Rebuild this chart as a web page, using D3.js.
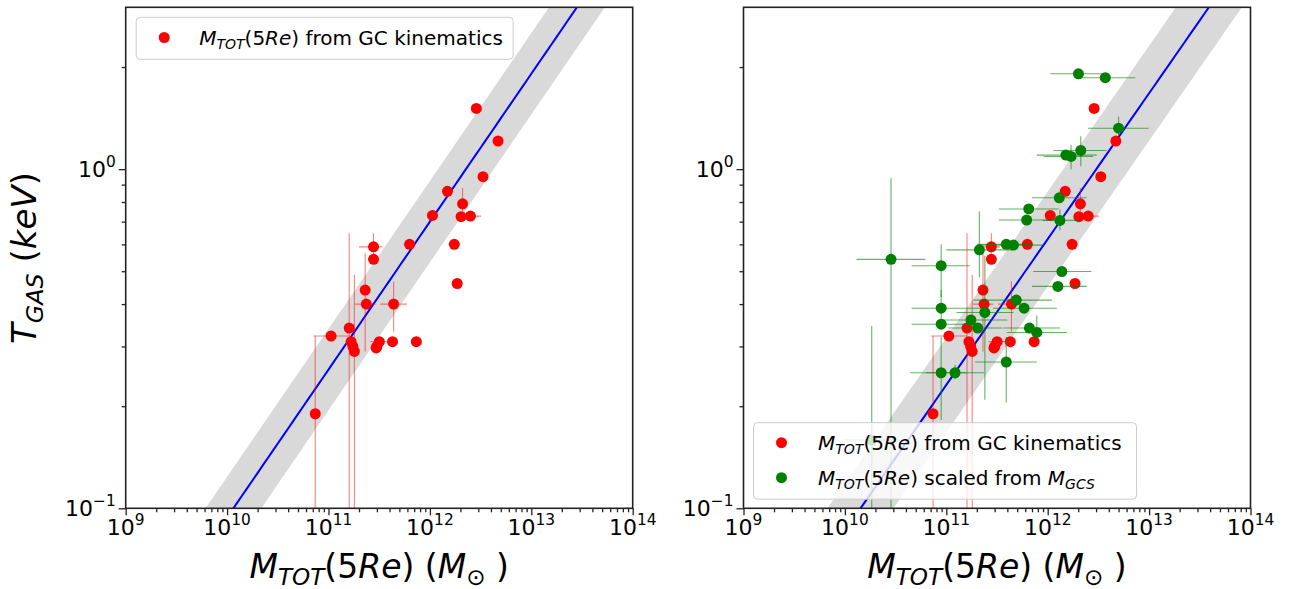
<!DOCTYPE html>
<html>
<head>
<meta charset="utf-8">
<script src="https://cdn.jsdelivr.net/npm/d3@7"></script>
<style>
  body { margin: 0; background: #fff; }
  svg text { font-family: "DejaVu Sans", sans-serif; fill: #000; white-space: pre; }
</style>
</head>
<body>
<svg id="fig" width="1301" height="589"></svg>
<script>
// ---------------- data ----------------
const massTicks = [1e9, 1e10, 1e11, 1e12, 1e13, 1e14];
const massTickExp = ["9", "10", "11", "12", "13", "14"];
const tempTicks = [0.1, 1];
const tempTickExp = ["\u22121", "0"];

// M_TOT(5Re) from GC kinematics (solar masses, keV); null = no bar on that side
const gcMass   = [7.4e10, 1.06e11, 1.6e11, 1.67e11, 1.74e11, 1.8e11, 2.3e11, 2.36e11, 2.78e11, 2.78e11,
                  3.0e11, 2.95e11, 3.17e11, 4.28e11, 4.39e11, 7.35e11, 6.3e11, 1.06e12, 1.49e12, 2.1e12,
                  2.03e12, 2.51e12, 1.74e12, 1.86e12, 2.87e12, 4.7e12, 3.34e12];
const gcTemp   = [0.19, 0.322, 0.34, 0.31, 0.30, 0.29, 0.44, 0.40, 0.59, 0.542,
                  0.30, 0.297, 0.31, 0.31, 0.40, 0.31, 0.60, 0.73, 0.86, 0.79,
                  0.724, 0.727, 0.60, 0.46, 1.51, 1.21, 0.95];
const gcMassLo = [null, 7.1e10, null, null, null, null, null, 1.83e11, 2.0e11, null,
                  null, null, 2.6e11, null, 3.24e11, null, null, null, null, null,
                  null, 2.2e12, null, null, null, null, null];
const gcMassHi = [null, 1.6e11, null, null, null, null, null, 2.9e11, 3.4e11, null,
                  null, null, 3.8e11, null, 5.94e11, null, null, null, null, null,
                  null, 3.2e12, null, null, null, null, null];
const gcTempLo = [0.05, null, 0.05, null, null, 0.05, 0.29, null, 0.54, null,
                  0.29, null, null, null, 0.332, null, null, null, null, 0.75,
                  null, null, null, null, null, null, null];
const gcTempHi = [0.322, null, 0.647, null, null, 0.488, 0.565, null, 0.647, null,
                  0.32, null, null, null, 0.466, null, null, null, null, 0.88,
                  null, null, null, null, null, null, null];

// M_TOT(5Re) scaled from the GC system mass
const gcsMass   = [2.01e12, 3.7e12, 5.0e12, 2.12e12, 1.51e12, 1.7e12, 1.3e12, 6.5e11, 6.2e11, 1.32e12,
                   3.9e11, 4.6e11, 2.12e11, 2.85e10, 8.9e10, 1.38e12, 1.26e12, 4.9e11, 5.85e11, 8.9e10,
                   2.4e11, 1.75e11, 8.9e10, 2.04e11, 6.6e11, 7.8e11, 3.9e11, 8.9e10, 1.22e11, 1.84e10];
const gcsTemp   = [1.91, 1.86, 1.32, 1.135, 1.10, 1.09, 0.823, 0.763, 0.708, 0.706,
                   0.60, 0.597, 0.578, 0.542, 0.519, 0.499, 0.451, 0.411, 0.389, 0.389,
                   0.378, 0.359, 0.349, 0.34, 0.34, 0.33, 0.27, 0.251, 0.251, 0.159];
const gcsMassLo = [1.06e12, 2.1e12, 2.5e12, 1.14e12, 7.8e11, 9.1e11, 7.0e11, 3.3e11, 3.3e11, 8.9e11,
                   2.0e11, 2.2e11, 1.0e11, 1.3e10, 4.55e10, 7.2e11, 7.0e11, 1.85e11, 2.9e11, 4.55e10,
                   1.26e11, 8.9e10, 4.55e10, 1.05e11, 3.65e11, 3.95e11, 1.92e11, 4.4e10, 6.3e10, 1.0e10];
const gcsMassHi = [3.8e12, 7.3e12, 9.9e12, 3.8e12, 3.05e12, 2.8e12, 2.43e12, 1.28e12, 1.23e12, 2.0e12,
                   7.1e11, 8.9e11, 4.5e11, 6.2e10, 1.71e11, 2.7e12, 2.43e12, 1.1e12, 1.23e12, 2.5e11,
                   4.6e11, 4.0e11, 1.71e11, 3.55e11, 1.32e12, 1.55e12, 7.8e11, 1.58e11, 2.35e11, 3.2e10];
const gcsTempLo = [null, null, 1.25, 1.02, null, 1.0, null, null, null, 0.66,
                   null, null, 0.48, 0.05, 0.42, null, null, null, null, 0.35,
                   0.209, null, null, null, null, 0.32, 0.205, 0.182, 0.24, 0.05];
const gcsTempHi = [null, null, 1.43, 1.25, null, 1.18, null, null, null, 0.76,
                   null, null, 0.75, 0.94, 0.60, null, null, null, null, 0.44,
                   0.555, null, null, null, null, 0.37, 0.32, 0.32, 0.265, 0.345];

// power-law relations T = 0.1 keV * (M / M01)^slope, one per panel, with a scatter band (dex in T)
const fitSlope = [0.436, 0.430];
const fitM01   = [1.153e10, 1.426e10];
const bandDex  = [0.12, 0.14];

// ---------------- layout ----------------
const svg = d3.select("#fig");
const panelLeft = [125.7, 743.5];
const W = 507, TOP = 7.3, BOT = 508.3;
const TICK = 22, LEG = 20, XLAB = 33, YLAB = 34;
const RED = "#ff0000", GREEN = "#008000";

// math-style text: [string, style] with style r (roman), i (italic), si/sr (subscript)
function mathText(g, x, y, size, parts, anchor) {
  const t = g.append("text").attr("x", x).attr("y", y)
    .attr("font-size", size).attr("text-anchor", anchor || "start");
  let shifted = 0;
  parts.forEach(([s, st]) => {
    const sub = st[0] === "s";
    const it = st[st.length - 1] === "i";
    const target = sub ? 0.22 * size : 0;
    t.append("tspan")
      .attr("dy", target - shifted)
      .attr("font-size", sub ? size * 0.7 : size)
      .attr("font-style", it ? "italic" : "normal")
      .text(s);
    shifted = target;
  });
  return t;
}

function powerLabel(g, x, y, exp, anchor) {
  const t = g.append("text").attr("x", x).attr("y", y)
    .attr("font-size", TICK).attr("text-anchor", anchor);
  t.append("tspan").text("10");
  t.append("tspan").attr("dy", -10).attr("font-size", TICK * 0.7).text(exp);
}

function minorValues(lo, hi) {
  const out = [];
  for (let d = lo; d < hi; d++) for (let k = 2; k <= 9; k++) out.push(k * Math.pow(10, d));
  return out;
}

function drawSeries(g, x, y, mass, temp, mLo, mHi, tLo, tHi, color, barOpacity) {
  const bars = g.append("g").attr("stroke", color).attr("stroke-opacity", barOpacity)
    .attr("stroke-width", 1.1);
  mass.forEach((m, i) => {
    if (mLo[i] !== null) bars.append("line")
      .attr("x1", x(mLo[i])).attr("x2", x(mHi[i])).attr("y1", y(temp[i])).attr("y2", y(temp[i]));
    if (tLo[i] !== null) bars.append("line")
      .attr("x1", x(m)).attr("x2", x(m)).attr("y1", y(tLo[i])).attr("y2", y(tHi[i]));
  });
  g.append("g").selectAll("circle").data(mass).join("circle")
    .attr("cx", d => x(d)).attr("cy", (d, i) => y(temp[i]))
    .attr("r", 5.5).attr("fill", color);
}

function drawPanel(p) {
  const x0 = panelLeft[p];
  const x = d3.scaleLog().domain([1e9, 1e14]).range([x0, x0 + W]);
  const y = d3.scaleLog().domain([0.1, 3]).range([BOT, TOP]);
  const g = svg.append("g");

  const clipId = "clip" + p;
  svg.append("clipPath").attr("id", clipId).append("rect")
    .attr("x", x0).attr("y", TOP).attr("width", W).attr("height", BOT - TOP);
  const plot = g.append("g").attr("clip-path", `url(#${clipId})`);

  // scatter band and fitted relation
  const fit = m => 0.1 * Math.pow(m / fitM01[p], fitSlope[p]);
  const ms = d3.range(8.5, 14.51, 0.05).map(e => Math.pow(10, e));
  const k = Math.pow(10, bandDex[p]);
  plot.append("path").datum(ms)
    .attr("d", d3.area().x(d => x(d)).y0(d => y(fit(d) / k)).y1(d => y(fit(d) * k)))
    .attr("fill", "#d9d9d9");
  plot.append("path").datum(ms)
    .attr("d", d3.line().x(d => x(d)).y(d => y(fit(d))))
    .attr("fill", "none").attr("stroke", "#0000ff").attr("stroke-width", 2);

  drawSeries(plot, x, y, gcMass, gcTemp, gcMassLo, gcMassHi, gcTempLo, gcTempHi, RED, 0.5);
  if (p === 1)
    drawSeries(plot, x, y, gcsMass, gcsTemp, gcsMassLo, gcsMassHi, gcsTempLo, gcsTempHi, GREEN, 0.6);

  // axes
  const axColor = "#222";
  const xMinor = g.append("g").attr("transform", `translate(0,${BOT})`)
    .call(d3.axisBottom(x).tickValues(minorValues(9, 14)).tickSize(4).tickFormat(""));
  const xMajor = g.append("g").attr("transform", `translate(0,${BOT})`)
    .call(d3.axisBottom(x).tickValues(massTicks).tickSize(7).tickFormat(""));
  const yMinor = g.append("g").attr("transform", `translate(${x0},0)`)
    .call(d3.axisLeft(y).tickValues([0.2, 0.3, 0.4, 0.5, 0.6, 0.7, 0.8, 0.9, 2]).tickSize(4).tickFormat(""));
  const yMajor = g.append("g").attr("transform", `translate(${x0},0)`)
    .call(d3.axisLeft(y).tickValues(tempTicks).tickSize(7).tickFormat(""));
  [xMinor, xMajor, yMinor, yMajor].forEach(a => {
    a.select(".domain").remove();
    a.selectAll("line").attr("stroke", axColor).attr("stroke-width", 1.3);
  });
  g.append("rect").attr("x", x0).attr("y", TOP).attr("width", W).attr("height", BOT - TOP)
    .attr("fill", "none").attr("stroke", axColor).attr("stroke-width", 1.6);

  massTicks.forEach((m, i) => powerLabel(g, x(m), BOT + 27, massTickExp[i], "middle"));
  tempTicks.forEach((t, i) => powerLabel(g, x0 - 10, y(t) + 8, tempTickExp[i], "end"));

  mathText(g, x0 + W / 2, 578, XLAB,
    [["M", "i"], ["TOT", "si"], ["(5", "r"], ["Re", "i"], [") (", "r"], ["M", "i"], ["\u2299", "sr"], [" )", "r"]],
    "middle");

  // legend
  const leg = g.append("g");
  const redLabel = [["M", "i"], ["TOT", "si"], ["(5", "r"], ["Re", "i"], [") from GC kinematics", "r"]];
  const greenLabel = [["M", "i"], ["TOT", "si"], ["(5", "r"], ["Re", "i"], [") scaled from ", "r"], ["M", "i"], ["GCS", "si"]];
  if (p === 0) {
    leg.append("rect").attr("x", x0 + 10.5).attr("y", 17.3).attr("width", 377).attr("height", 42)
      .attr("rx", 4).attr("fill", "#fff").attr("fill-opacity", 0.8)
      .attr("stroke", "#cccccc").attr("stroke-width", 1);
    leg.append("circle").attr("cx", x0 + 38.5).attr("cy", 37.5).attr("r", 5.5).attr("fill", RED);
    mathText(leg, x0 + 73.5, 44.5, LEG, redLabel);
  } else {
    leg.append("rect").attr("x", x0 + 10).attr("y", 422.7).attr("width", 383).attr("height", 76.5)
      .attr("rx", 4).attr("fill", "#fff").attr("fill-opacity", 0.8)
      .attr("stroke", "#cccccc").attr("stroke-width", 1);
    leg.append("circle").attr("cx", x0 + 38).attr("cy", 442.7).attr("r", 5.5).attr("fill", RED);
    leg.append("circle").attr("cx", x0 + 38).attr("cy", 477.7).attr("r", 5.5).attr("fill", GREEN);
    mathText(leg, x0 + 74.5, 449.7, LEG, redLabel);
    mathText(leg, x0 + 74.5, 484.7, LEG, greenLabel);
  }
}

drawPanel(0);
drawPanel(1);

// shared y-axis title
const yl = mathText(svg, 36, 258, YLAB,
  [["T", "i"], ["GAS", "si"], [" (", "r"], ["keV", "i"], [")", "r"]], "middle");
yl.attr("transform", "rotate(-90,36,258)");
</script>
</body>
</html>
